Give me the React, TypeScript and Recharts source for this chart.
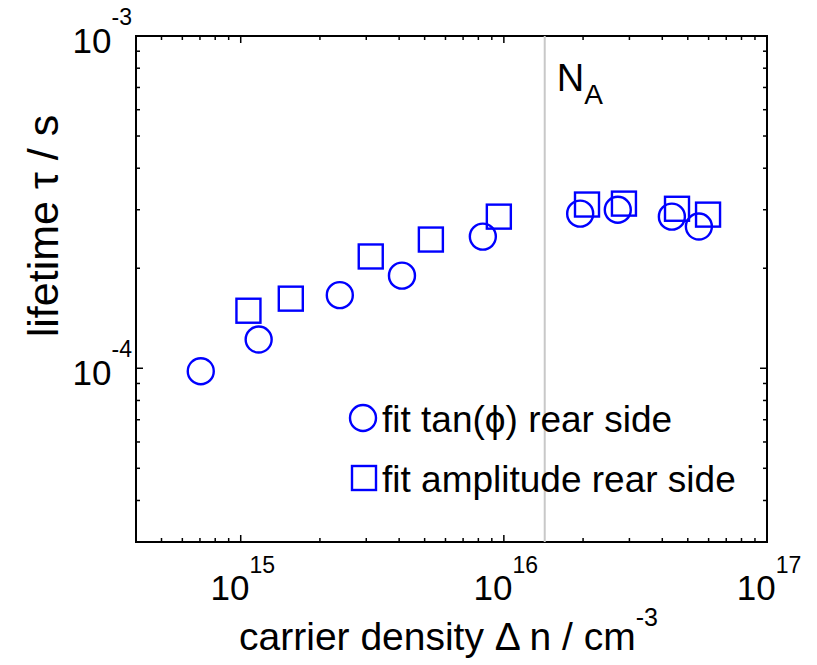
import React from 'react';
import { ScatterChart, Scatter, XAxis, YAxis, ReferenceLine, ReferenceArea } from 'recharts';

// fit tan(phi) rear side (circles)
const tanDensity = [7.05e14, 1.17e15, 2.38e15, 4.1e15, 8.32e15, 1.95e16, 2.71e16, 4.35e16, 5.51e16];
const tanLifetime = [9.8e-5, 1.22e-4, 1.66e-4, 1.9e-4, 2.49e-4, 2.92e-4, 3.0e-4, 2.86e-4, 2.67e-4];

// fit amplitude rear side (squares)
const ampDensity = [1.07e15, 1.55e15, 3.12e15, 5.28e15, 9.57e15, 2.07e16, 2.86e16, 4.55e16, 5.97e16];
const ampLifetime = [1.49e-4, 1.62e-4, 2.17e-4, 2.44e-4, 2.86e-4, 3.11e-4, 3.13e-4, 3.02e-4, 2.9e-4];

const dopingNA = 1.43e16;

const xTicks = [
  5e14, 6e14, 7e14, 8e14, 9e14, 1e15,
  2e15, 3e15, 4e15, 5e15, 6e15, 7e15, 8e15, 9e15, 1e16,
  2e16, 3e16, 4e16, 5e16, 6e16, 7e16, 8e16, 9e16, 1e17,
];
const xMajor = [1e15, 1e16, 1e17];
const xLabels = ['15', '16', '17'];

const yTicks = [
  4e-5, 5e-5, 6e-5, 7e-5, 8e-5, 9e-5, 1e-4,
  2e-4, 3e-4, 4e-4, 5e-4, 6e-4, 7e-4, 8e-4, 9e-4, 1e-3,
];
const yMajor = [1e-4, 1e-3];
const yLabels = ['-4', '-3'];

const legendNames = ['fit tan(ϕ) rear side', 'fit amplitude rear side'];

const BLUE = '#0000ff';
const FONT = '"Liberation Sans", Arial, sans-serif';
const TOP = 36;
const BOTTOM = 542;
const LEFT = 136;
const RIGHT = 767;

const tanData = tanDensity.map((x, i) => ({ x, y: tanLifetime[i] }));
const ampData = ampDensity.map((x, i) => ({ x, y: ampLifetime[i] }));

function XTick(props: any) {
  const x = props.payload?.coordinate ?? props.x;
  const v = props.payload?.value;
  const idx = xMajor.findIndex((m) => Math.abs(m - v) / m < 1e-6);
  const len = idx >= 0 ? 7 : 4;
  return (
    <g>
      <line x1={x} x2={x} y1={BOTTOM} y2={BOTTOM - len} stroke="#000" strokeWidth={1.5} />
      <line x1={x} x2={x} y1={TOP} y2={TOP + len} stroke="#000" strokeWidth={1.5} />
      {idx >= 0 && (
        <text x={x + 2} y={BOTTOM + 58} textAnchor="middle" fontSize={35} fontFamily={FONT} fill="#000">
          <tspan>10</tspan>
          <tspan dy={-27} fontSize={23}>{xLabels[idx]}</tspan>
        </text>
      )}
    </g>
  );
}

function YTick(props: any) {
  const y = props.payload?.coordinate ?? props.y;
  const v = props.payload?.value;
  const idx = yMajor.findIndex((m) => Math.abs(m - v) / m < 1e-6);
  const len = idx >= 0 ? 7 : 4;
  return (
    <g>
      <line x1={LEFT} x2={LEFT + len} y1={y} y2={y} stroke="#000" strokeWidth={1.5} />
      <line x1={RIGHT} x2={RIGHT - len} y1={y} y2={y} stroke="#000" strokeWidth={1.5} />
      {idx >= 0 && (
        <text x={132} y={y + 17} textAnchor="end" fontSize={35} fontFamily={FONT} fill="#000">
          <tspan>10</tspan>
          <tspan dy={-28} fontSize={23}>{yLabels[idx]}</tspan>
        </text>
      )}
    </g>
  );
}

const circleShape = (p: any) => (
  <circle cx={p.cx} cy={p.cy} r={13} fill="none" stroke={BLUE} strokeWidth={2.4} />
);
const squareShape = (p: any) => (
  <rect x={p.cx - 12} y={p.cy - 12} width={24} height={24} fill="none" stroke={BLUE} strokeWidth={2.4} />
);

function LegendBox() {
  return (
    <svg width={420} height={115} style={{ display: 'block', position: 'absolute', left: 345, top: 395 }}>
      <circle cx={18} cy={23} r={13} fill="none" stroke={BLUE} strokeWidth={2.4} />
      <text x={37} y={37} fontSize={37} fontFamily={FONT} fill="#000">{legendNames[0]}</text>
      <rect x={7} y={71} width={24} height={24} fill="none" stroke={BLUE} strokeWidth={2.4} />
      <text x={37} y={97} fontSize={37} fontFamily={FONT} fill="#000">{legendNames[1]}</text>
    </svg>
  );
}

function NALabel(props: any) {
  const x = props.viewBox?.x ?? 545;
  return (
    <text x={x + 12} y={TOP + 55} fontSize={38} fontFamily={FONT} fill="#000">
      <tspan>N</tspan>
      <tspan dy={13} fontSize={28}>A</tspan>
    </text>
  );
}

function XLabel() {
  return (
    <text x={(LEFT + RIGHT) / 2 - 3} y={650} textAnchor="middle" fontSize={39} fontFamily={FONT} fill="#000">
      <tspan>carrier density Δ n / cm</tspan>
      <tspan dy={-24} fontSize={25}>-3</tspan>
    </text>
  );
}

function YLabel() {
  return (
    <text x={58} y={226} transform="rotate(-90 58 226)" textAnchor="middle" fontSize={43} fontFamily={FONT} fill="#000">
      lifetime τ / s
    </text>
  );
}

export default function App() {
  return (
    <div style={{ position: 'absolute', left: 0, top: 0, width: 817, height: 665, background: '#fff' }}>
      <ScatterChart width={817} height={665} margin={{ top: TOP, right: 817 - RIGHT, bottom: 665 - BOTTOM - 60, left: LEFT - 80 }}>
        <XAxis
          type="number"
          dataKey="x"
          scale="log"
          domain={[4e14, 1e17]}
          allowDataOverflow
          ticks={xTicks}
          interval={0}
          tick={<XTick />}
          tickLine={false}
          axisLine={false}
          height={60}
          label={<XLabel />}
        />
        <YAxis
          type="number"
          dataKey="y"
          scale="log"
          domain={[3e-5, 1e-3]}
          allowDataOverflow
          ticks={yTicks}
          interval={0}
          tick={<YTick />}
          tickLine={false}
          axisLine={false}
          width={80}
          label={<YLabel />}
        />
        <ReferenceLine x={dopingNA} stroke="#c8c8c8" strokeWidth={2} label={<NALabel />} />
        <Scatter name={legendNames[0]} data={tanData} shape={circleShape} isAnimationActive={false} />
        <Scatter name={legendNames[1]} data={ampData} shape={squareShape} isAnimationActive={false} />
        <ReferenceArea x1={4e14} x2={1e17} y1={3e-5} y2={1e-3} fill="none" stroke="#000" strokeWidth={2} ifOverflow="visible" />
      </ScatterChart>
      <LegendBox />
    </div>
  );
}
